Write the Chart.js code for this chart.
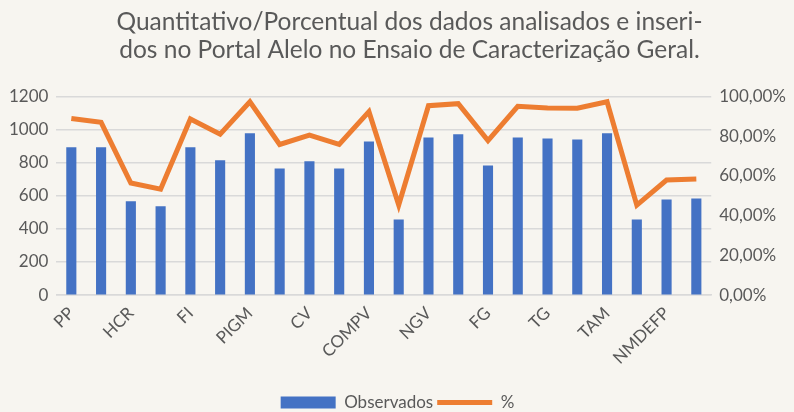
<!DOCTYPE html>
<html>
<head>
<meta charset="utf-8">
<script src="https://cdn.jsdelivr.net/npm/chart.js@4.4.0/dist/chart.umd.min.js"></script>
<style>
  html, body { margin: 0; padding: 0; background: #f7f5f0; }
  #wrap { width: 794px; height: 412px; }
</style>
</head>
<body>
<div id="wrap"><canvas id="chart" width="794" height="412"></canvas></div>
<script>
// categories (only every other name is printed on the axis, the rest cannot be read)
const categories = ['PP', '', 'HCR', '', 'FI', '', 'PIGM', '', 'CV', '', 'COMPV',
  '', 'NGV', '', 'FG', '', 'TG', '', 'TAM', '', 'NMDEFP', ''];

// bars, left axis
const observados = [892, 892, 566, 536, 892, 814, 977, 765, 808, 765, 928,
  457, 952, 971, 783, 952, 946, 940, 977, 457, 578, 584];

// line, right axis (fraction)
const percentual = [0.889, 0.869, 0.564, 0.533, 0.886, 0.810, 0.973, 0.758, 0.805, 0.758, 0.923,
  0.453, 0.953, 0.963, 0.777, 0.950, 0.941, 0.940, 0.973, 0.453, 0.579, 0.584];

const leftTicks = [0, 200, 400, 600, 800, 1000, 1200];
const rightTicks = [0, 0.2, 0.4, 0.6, 0.8, 1.0];

const font = 'Lato, "Open Sans", sans-serif';
const grey = '#595959';

const paper = {
  id: 'paper',
  beforeDraw(chart) {
    const c = chart.ctx;
    c.save();
    c.fillStyle = '#f7f5f0';
    c.fillRect(0, 0, chart.width, chart.height);
    c.restore();
  },
  afterLayout(chart) {
    // the title sits a little right of the page centre in the original
    chart.titleBlock.left += 12;
    chart.titleBlock.right += 12;
  }
};

new Chart(document.getElementById('chart').getContext('2d'), {
  data: {
    labels: categories,
    datasets: [
      {
        type: 'line',
        label: '%',
        data: percentual,
        yAxisID: 'y1',
        borderColor: '#ed7d31',
        backgroundColor: '#ed7d31',
        borderWidth: 5,
        pointRadius: 0,
        tension: 0,
        order: 0
      },
      {
        type: 'bar',
        label: 'Observados',
        data: observados,
        yAxisID: 'y',
        backgroundColor: '#4472c4',
        categoryPercentage: 1,
        barPercentage: 0.34,
        order: 1
      }
    ]
  },
  options: {
    responsive: false,
    animation: false,
    layout: { padding: { left: 1, right: 0, top: 6, bottom: -9 } },
    plugins: {
      title: {
        display: true,
        text: ['Quantitativo/Porcentual dos dados analisados e inseri-',
               'dos no Portal Alelo no Ensaio de Caracterização Geral.'],
        color: grey,
        font: { family: font, size: 24.5, weight: 'normal', lineHeight: 1.15 },
        padding: { top: 2, bottom: 32 },
        align: 'center'
      },
      legend: {
        position: 'bottom',
        reverse: true,
        labels: {
          color: grey,
          font: { family: font, size: 17 },
          usePointStyle: true,
          pointStyleWidth: 55,
          boxHeight: 12,
          padding: 4,
          generateLabels(chart) {
            return chart.data.datasets.map((ds, i) => ({
              text: ds.label,
              fillStyle: ds.backgroundColor,
              strokeStyle: ds.type === 'line' ? ds.borderColor : ds.backgroundColor,
              lineWidth: ds.type === 'line' ? 5 : 0,
              pointStyle: ds.type === 'line' ? 'line' : 'rect',
              fontColor: grey,
              datasetIndex: i,
              hidden: false
            }));
          }
        }
      },
      tooltip: { enabled: false }
    },
    scales: {
      x: {
        offset: true,
        grid: { display: false },
        border: { color: '#d9d9d9', width: 1.5 },
        afterFit(scale) { scale.height += 22; },
        ticks: {
          autoSkip: false,
          maxRotation: 45,
          minRotation: 45,
          padding: 0,
          color: grey,
          font: { family: font, size: 17 }
        }
      },
      y: {
        position: 'left',
        min: 0,
        max: 1200,
        afterBuildTicks(axis) { axis.ticks = leftTicks.map(v => ({ value: v })); },
        grid: { color: '#d9d9d9', lineWidth: 1.5, drawTicks: false },
        border: { display: false },
        ticks: {
          color: grey,
          padding: 8,
          font: { family: font, size: 17 },
          callback: v => String(v)
        }
      },
      y1: {
        position: 'right',
        min: 0,
        max: 1,
        afterBuildTicks(axis) { axis.ticks = rightTicks.map(v => ({ value: v })); },
        grid: { display: false, drawTicks: false },
        border: { display: false },
        ticks: {
          color: grey,
          padding: 8,
          font: { family: font, size: 17 },
          callback: v => (v * 100).toFixed(2).replace('.', ',') + '%'
        }
      }
    }
  },
  plugins: [paper]
});
</script>
</body>
</html>
